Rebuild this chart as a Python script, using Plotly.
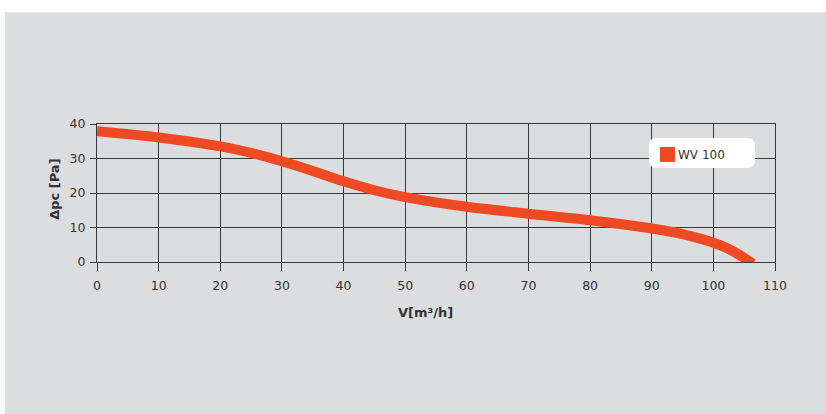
import plotly.graph_objects as go

# ---- data ----
flow = [0, 10, 20, 25, 30, 35, 40, 45, 50, 60, 70, 80, 90, 95, 98, 100, 102, 104, 105, 106.4]
pressure = [37.9, 36.1, 33.5, 31.6, 29.2, 26.4, 23.4, 20.8, 18.8, 16.0, 14.0, 12.1, 9.7, 8.1, 6.7, 5.6, 4.2, 2.3, 1.2, -0.5]
series_name = "WV 100"
x_ticks = [0, 10, 20, 30, 40, 50, 60, 70, 80, 90, 100, 110]
y_ticks = [0, 10, 20, 30, 40]

W, H = 826, 414
L, R, T, B = 97, 775, 124, 262.3
CURVE = "#F04A24"
GRID = "#3a3a3a"
BG = "#DCDDDF"
TXT = "#333333"
FONT = "DejaVu Sans"


def px(xp):
    return (xp - L) / (R - L)


def py(yp):
    return (B - yp) / (B - T)


def rounded_rect(x0, y0, x1, y1, r):
    rx = r / (R - L)
    ry = r / (B - T)
    a0, a1 = px(x0), px(x1)
    b0, b1 = py(y1), py(y0)  # b0 bottom, b1 top
    return (f"M {a0+rx},{b1} L {a1-rx},{b1} Q {a1},{b1} {a1},{b1-ry} "
            f"L {a1},{b0+ry} Q {a1},{b0} {a1-rx},{b0} L {a0+rx},{b0} "
            f"Q {a0},{b0} {a0},{b0+ry} L {a0},{b1-ry} Q {a0},{b1} {a0+rx},{b1} Z")


fig = go.Figure()
fig.add_trace(go.Scatter(
    x=flow, y=pressure, mode="lines", name=series_name,
    line=dict(color=CURVE, width=10, shape="spline", smoothing=0.8),
    showlegend=False, hoverinfo="x+y",
))

shapes = [
    # grey panel
    dict(type="rect", xref="paper", yref="paper", x0=px(5), x1=px(W + 5), y0=py(12), y1=py(H + 5),
         fillcolor=BG, line=dict(width=0), layer="below"),
    # legend box
    dict(type="path", xref="paper", yref="paper", path=rounded_rect(649, 138, 755, 168, 8),
         fillcolor="white", line=dict(width=0), layer="above"),
    # legend swatch
    dict(type="rect", xref="paper", yref="paper", x0=px(660), x1=px(675), y0=py(162), y1=py(147),
         fillcolor=CURVE, line=dict(width=0), layer="above"),
]

annotations = [
    dict(text=series_name, xref="paper", yref="paper", x=px(676), y=py(155), xanchor="left",
         yanchor="middle", showarrow=False, font=dict(family=FONT, size=12, color=TXT)),
    dict(text="<b>V[m³/h]</b>", xref="paper", yref="paper", x=px(425), y=py(313), xanchor="center",
         yanchor="middle", showarrow=False, font=dict(family=FONT, size=13, color=TXT)),
    dict(text="<b>Δpc [Pa]</b>", xref="paper", yref="paper", x=px(55), y=py(190), xanchor="center",
         yanchor="middle", showarrow=False, textangle=-90, font=dict(family=FONT, size=13, color=TXT)),
]

axis_common = dict(
    showgrid=True, gridcolor=GRID, gridwidth=1,
    showline=True, linecolor=GRID, linewidth=1, mirror=True,
    ticks="outside", tickcolor=GRID, tickwidth=1,
    zeroline=False, fixedrange=True,
    tickfont=dict(family=FONT, size=12.5, color=TXT),
)

fig.update_xaxes(range=[0, 110], tickvals=x_ticks, ticktext=[str(v) for v in x_ticks],
                 ticklen=8, ticklabelstandoff=4, **axis_common)
fig.update_yaxes(range=[0, 40], tickvals=y_ticks, ticktext=[str(v) for v in y_ticks],
                 ticklen=6, ticklabelstandoff=2, **axis_common)

fig.update_layout(
    width=W, height=H,
    margin=dict(l=L, r=W - R, t=T, b=H - B, autoexpand=False),
    paper_bgcolor="white", plot_bgcolor="rgba(0,0,0,0)",
    shapes=shapes, annotations=annotations,
    showlegend=False,
)

fig.write_html(
    "out.html",
    config={"displayModeBar": False},
    post_script="document.body.style.margin='0';document.body.style.overflow='hidden';",
)
